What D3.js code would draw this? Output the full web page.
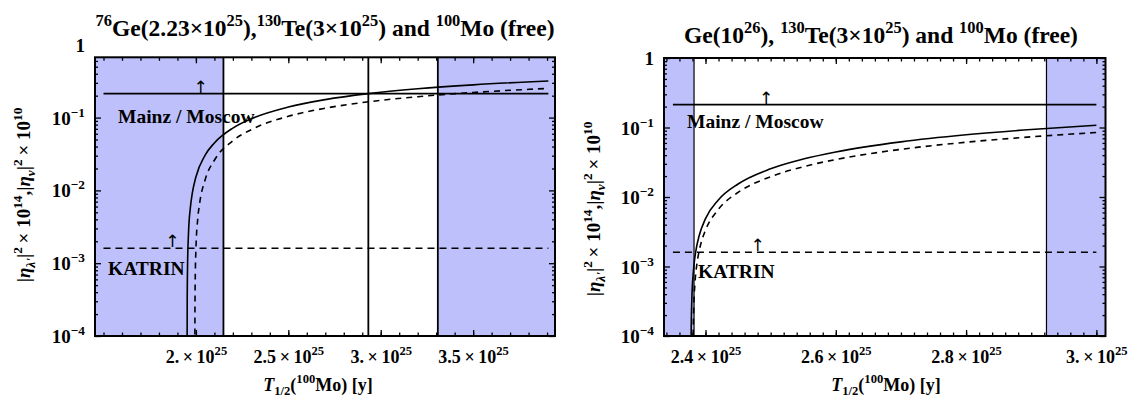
<!DOCTYPE html>
<html><head><meta charset="utf-8">
<script src="https://cdn.jsdelivr.net/npm/d3@7"></script>
<style>
body{margin:0;background:#fff}
svg{display:block}
text{font-family:"Liberation Serif","Times New Roman",serif;font-weight:bold;fill:#000}
</style>
</head><body>
<svg id="chart" width="1130" height="408"></svg>
<script>
// ---------------- data (half-life in units of 1e25 years) ----------------
const leftSolidT = [1.9522,1.953,1.955,1.96,1.97,1.98,2.0,2.05,2.1,2.2,2.3,2.5,2.7,2.933,3.2,3.5,3.907];
const leftSolidV = [0.000065,0.00033,0.00098,0.0026,0.0058,0.009,0.0153,0.0305,0.0449,0.0718,0.0964,0.1396,0.1765,0.2131,0.2484,0.2817,0.3187];
const leftDashT  = [1.9942,1.995,1.997,2.0,2.01,2.02,2.05,2.1,2.2,2.3,2.5,2.7,2.933,3.2,3.5,3.907];
const leftDashV  = [0.000052,0.00026,0.00077,0.00154,0.00409,0.0066,0.01404,0.02594,0.0481,0.0684,0.104,0.1344,0.1646,0.1937,0.2212,0.2517];

const rightSolidT = [2.3777,2.378,2.379,2.381,2.383,2.386,2.39,2.40,2.42,2.45,2.5,2.55,2.6,2.7,2.8,2.9,3.0];
const rightSolidV = [0.000044,0.000109,0.000328,0.00076,0.0012,0.00185,0.00272,0.00488,0.00913,0.01539,0.02548,0.03518,0.0445,0.0621,0.0785,0.0937,0.1079];
const rightDashT  = [2.3807,2.381,2.382,2.384,2.387,2.39,2.395,2.40,2.42,2.45,2.5,2.55,2.6,2.7,2.8,2.9,3.0];
const rightDashV  = [0.000034,0.000086,0.000258,0.0006,0.00112,0.00163,0.00248,0.00333,0.00669,0.01163,0.0196,0.02725,0.03461,0.0485,0.0614,0.0734,0.0847];

const mainzLimit  = 0.213;
const katrinLimit = 0.0016;
const leftLimitSpan  = [1.5, 3.907];
const rightLimitSpan = [2.35, 3.0];

const leftBandEdges  = [2.149, 3.309];   // shaded outside these
const leftVLines     = [2.149, 2.933, 3.309];
const rightBandEdges = [2.3824, 2.9234];
const rightVLines    = [2.3824, 2.9234];

const leftXTicks   = [2.0, 2.5, 3.0, 3.5];
const leftXLabels  = ["2.", "2.5", "3.", "3.5"];
const rightXTicks  = [2.4, 2.6, 2.8, 3.0];
const rightXLabels = ["2.4", "2.6", "2.8", "3."];
const yTicks       = [1e-4, 1e-3, 1e-2, 1e-1, 1];
const yTickExp     = ["\u22124", "\u22123", "\u22122", "\u22121", ""];

const leftTitle  = [["76","sup"],["Ge(2.23×10",""],["25","sup"],["),",""],["130","sup"],["Te(3×10",""],["25","sup"],[") and ",""],["100","sup"],["Mo (free)",""]];
const rightTitle = [["Ge(10",""],["26","sup"],["), ",""],["130","sup"],["Te(3×10",""],["25","sup"],[") and ",""],["100","sup"],["Mo (free)",""]];
const xTitle = [["T","it"],["1/2","sub"],["(",""],["100","sup"],["Mo) [y]",""]];
const yTitle = [["|",""],["η","it"],["λ'","itsub"],["|",""],["2","sup"],["\u2009× 10",""],["14","sup"],[",|",""],["η","it"],["ν","itsub"],["|",""],["2","sup"],["\u2009× 10",""],["10","sup"]];

// ---------------- helpers ----------------
const svg = d3.select("#chart");
svg.append("rect").attr("width",1130).attr("height",408).attr("fill","#fff");

// rich text: parts = [text, style]; base = vertical offset of the baseline (px)
function rich(t, parts, size, base){
  let off = -(base || 0);
  t.style("font-size", size + "px");
  parts.forEach(([s, st]) => {
    let target = 0, fs = size;
    if (st.includes("sup")) { target = -0.42*size; fs = 0.7*size; }
    if (st.includes("sub")) { target = 0.24*size; fs = 0.7*size; }
    const ts = t.append("tspan").text(s).attr("dy", target - off).style("font-size", fs + "px");
    if (st.includes("it")) ts.style("font-style","italic");
    off = target;
  });
}

const BLUE = "rgb(189,192,251)";

function panel(cfg){
  const f = cfg.frame;
  const x = d3.scaleLinear().domain(cfg.xDomain).range([f.x0, f.x1]);
  const y = d3.scaleLog().domain(cfg.yDomain).range([f.y1, f.y0]);
  const g = svg.append("g");
  const clipId = "clip" + cfg.id;
  svg.append("clipPath").attr("id", clipId).append("rect")
    .attr("x", f.x0).attr("y", f.y0).attr("width", f.x1 - f.x0).attr("height", f.y1 - f.y0);
  const plot = g.append("g").attr("clip-path", `url(#${clipId})`);

  // shaded bands
  plot.append("rect").attr("x", f.x0).attr("y", f.y0)
    .attr("width", x(cfg.bandEdges[0]) - f.x0).attr("height", f.y1 - f.y0).attr("fill", BLUE);
  plot.append("rect").attr("x", x(cfg.bandEdges[1])).attr("y", f.y0)
    .attr("width", f.x1 - x(cfg.bandEdges[1])).attr("height", f.y1 - f.y0).attr("fill", BLUE);

  // vertical lines
  plot.selectAll(".vl").data(cfg.vLines).enter().append("line")
    .attr("x1", d => x(d)).attr("x2", d => x(d)).attr("y1", f.y0).attr("y2", f.y1)
    .attr("stroke", "#000").attr("stroke-width", cfg.vWidth);

  // limit lines
  plot.append("line").attr("x1", x(cfg.limitSpan[0])).attr("x2", x(cfg.limitSpan[1]))
    .attr("y1", y(mainzLimit)).attr("y2", y(mainzLimit)).attr("stroke", "#000").attr("stroke-width", 1.8);
  plot.append("line").attr("x1", x(cfg.limitSpan[0])).attr("x2", x(cfg.limitSpan[1]))
    .attr("y1", y(katrinLimit)).attr("y2", y(katrinLimit)).attr("stroke", "#000").attr("stroke-width", 1.5)
    .attr("stroke-dasharray", "7,5");

  // curves
  const line = d3.line().x(d => x(d[0])).y(d => y(d[1])).curve(d3.curveMonotoneX);
  plot.append("path").datum(d3.zip(cfg.solidT, cfg.solidV)).attr("d", line)
    .attr("fill", "none").attr("stroke", "#000").attr("stroke-width", 1.6);
  plot.append("path").datum(d3.zip(cfg.dashT, cfg.dashV)).attr("d", line)
    .attr("fill", "none").attr("stroke", "#000").attr("stroke-width", 1.6).attr("stroke-dasharray", "6,5");

  // annotations
  g.append("text").attr("x", cfg.mainzLabel[0]).attr("y", cfg.mainzLabel[1]).style("font-size","19.5px").text("Mainz / Moscow");
  g.append("text").attr("x", cfg.katrinLabel[0]).attr("y", cfg.katrinLabel[1]).style("font-size","19.5px").text("KATRIN");
  [[cfg.mainzArrow, mainzLimit],[cfg.katrinArrow, katrinLimit]].forEach(([ax, v]) => {
    g.append("text").attr("x", x(ax)).attr("y", y(v) - 1).attr("text-anchor","middle")
      .style("font-size","17px").style("font-weight","normal").style("font-family","'DejaVu Sans'").text("\u2191");
  });

  // ticks via axes
  const inRange = v => v >= cfg.yDomain[0]*0.999 && v <= cfg.yDomain[1]*1.001;
  const yMinor = [];
  for (let e = -4; e < 0; e++) for (let k = 2; k <= 9; k++) { const v = k*Math.pow(10,e); if (inRange(v)) yMinor.push(v); }
  const yMajor = yTicks.filter(inRange);
  const xMinor = d3.range(cfg.minorStart, cfg.xDomain[1], cfg.minorStep).filter(v => v > cfg.xDomain[0]);

  const tickG = g.append("g").attr("stroke-width", 1.3);
  const mk = (axis, tr) => { const a = tickG.append("g").attr("transform", tr).call(axis); a.select(".domain").remove(); a.selectAll("text").remove(); };
  mk(d3.axisBottom(x).tickValues(cfg.xTicks).tickSize(-6), `translate(0,${f.y1})`);
  mk(d3.axisBottom(x).tickValues(xMinor).tickSize(-3.5), `translate(0,${f.y1})`);
  mk(d3.axisTop(x).tickValues(cfg.xTicks).tickSize(-6), `translate(0,${f.y0})`);
  mk(d3.axisTop(x).tickValues(xMinor).tickSize(-3.5), `translate(0,${f.y0})`);
  mk(d3.axisLeft(y).tickValues(yMajor).tickSize(-6), `translate(${f.x0},0)`);
  mk(d3.axisLeft(y).tickValues(yMinor).tickSize(-3), `translate(${f.x0},0)`);
  mk(d3.axisRight(y).tickValues(yMajor).tickSize(-6), `translate(${f.x1},0)`);
  mk(d3.axisRight(y).tickValues(yMinor).tickSize(-3), `translate(${f.x1},0)`);

  // x tick labels
  const xl = g.append("g").attr("transform", `translate(0,${f.y1})`)
    .call(d3.axisBottom(x).tickValues(cfg.xTicks).tickSize(0).tickPadding(14));
  xl.select(".domain").remove();
  xl.attr("font-family", null).attr("font-size", null);
  xl.selectAll("text").attr("dy", null)
    .each(function(d, i){ const t = d3.select(this); t.text(null);
      rich(t, [[cfg.xLabels[i] + "\u2009×\u200910", ""], ["25", "sup"]], 18, 13); });

  // y tick labels
  const yl = g.append("g").attr("transform", `translate(${f.x0},0)`)
    .call(d3.axisLeft(y).tickValues(yTicks).tickSize(0).tickPadding(cfg.yPad));
  yl.select(".domain").remove();
  yl.attr("font-family", null).attr("font-size", null);
  yl.selectAll("text").attr("dy", null)
    .each(function(d, i){ const t = d3.select(this); t.text(null);
      if (yTickExp[i] === "") rich(t, [["1", ""]], 19, 6.5);
      else rich(t, [["10", ""], [yTickExp[i], "sup"]], 19, 6.5); });

  // frame
  g.append("rect").attr("x", f.x0).attr("y", f.y0).attr("width", f.x1 - f.x0).attr("height", f.y1 - f.y0)
    .attr("fill", "none").attr("stroke", "#000").attr("stroke-width", 2);

  // titles
  const tt = g.append("text").attr("x", cfg.titlePos[0]).attr("y", cfg.titlePos[1]).attr("text-anchor","middle");
  rich(tt, cfg.title, 23.5);
  const xt = g.append("text").attr("x", cfg.xTitlePos[0]).attr("y", cfg.xTitlePos[1]).attr("text-anchor","middle");
  rich(xt, xTitle, 18);
  const yt = g.append("text").attr("text-anchor","middle")
    .attr("transform", `translate(${cfg.yTitlePos[0]},${cfg.yTitlePos[1]}) rotate(-90)`);
  rich(yt, yTitle, 19);
}

panel({
  id: "L",
  frame: {x0: 95, x1: 555, y0: 57.3, y1: 336},
  xDomain: [1.454, 3.943], yDomain: [1e-4, 0.673],
  solidT: leftSolidT, solidV: leftSolidV, dashT: leftDashT, dashV: leftDashV,
  bandEdges: leftBandEdges, vLines: leftVLines, vWidth: 1.8,
  limitSpan: leftLimitSpan,
  xTicks: leftXTicks, xLabels: leftXLabels, minorStart: 1.5, minorStep: 0.1,
  mainzLabel: [118, 123], katrinLabel: [108, 275],
  mainzArrow: 2.026, katrinArrow: 1.872,
  yPad: 10,
  title: leftTitle, titlePos: [325, 36], xTitlePos: [318, 391], yTitlePos: [30, 195]
});

panel({
  id: "R",
  frame: {x0: 664, x1: 1105.5, y0: 58, y1: 336},
  xDomain: [2.3363, 3.014], yDomain: [1e-4, 1],
  solidT: rightSolidT, solidV: rightSolidV, dashT: rightDashT, dashV: rightDashV,
  bandEdges: rightBandEdges, vLines: rightVLines, vWidth: 1.2,
  limitSpan: rightLimitSpan,
  xTicks: rightXTicks, xLabels: rightXLabels, minorStart: 2.34, minorStep: 0.02,
  mainzLabel: [687, 128], katrinLabel: [698, 278],
  mainzArrow: 2.493, katrinArrow: 2.480,
  yPad: 10,
  title: rightTitle, titlePos: [881, 43], xTitlePos: [886, 391], yTitlePos: [600, 209]
});
</script>
</body></html>
